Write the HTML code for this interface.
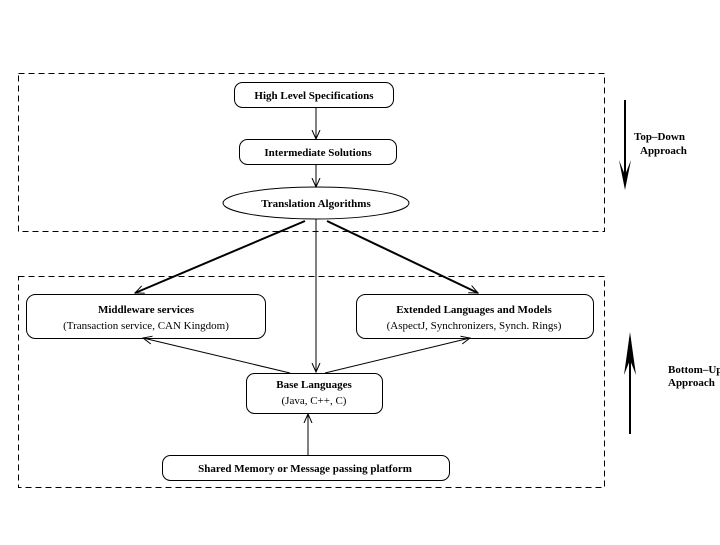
<!DOCTYPE html>
<html><head><style>
body{margin:0;background:#fff;}
svg text{font-family:"Liberation Serif",serif;font-weight:bold;font-size:11px;fill:#000;}
</style></head><body>
<svg width="720" height="540" xmlns="http://www.w3.org/2000/svg">
<defs>
<marker id="a" markerWidth="10" markerHeight="10" refX="9" refY="5" orient="auto" markerUnits="userSpaceOnUse"><path d="M0,1 L9,5 L0,9" fill="none" stroke="#000" stroke-width="1"/></marker>
</defs>
<g fill="none" stroke="#000" stroke-width="1">
<rect x="18.5" y="73.5" width="586" height="158" stroke-dasharray="6,4"/>
<rect x="18.5" y="276.5" width="586" height="211" stroke-dasharray="6,4"/>
<rect x="234.5" y="82.5" width="159" height="25" rx="8"/>
<rect x="239.5" y="139.5" width="157" height="25" rx="8"/>
<ellipse cx="316" cy="203" rx="93" ry="16"/>
<rect x="26.5" y="294.5" width="239" height="44" rx="9"/>
<rect x="356.5" y="294.5" width="237" height="44" rx="9"/>
<rect x="246.5" y="373.5" width="136" height="40" rx="8"/>
<rect x="162.5" y="455.5" width="287" height="25" rx="8"/>
<line x1="316" y1="107" x2="316" y2="139" marker-end="url(#a)"/>
<line x1="316" y1="164" x2="316" y2="187" marker-end="url(#a)"/>
<line x1="316" y1="219" x2="316" y2="372" marker-end="url(#a)"/>
<line x1="305" y1="221" x2="135" y2="293" stroke-width="2" marker-end="url(#a)"/>
<line x1="327" y1="221" x2="478" y2="293" stroke-width="2" marker-end="url(#a)"/>
<line x1="290" y1="373" x2="143" y2="338" marker-end="url(#a)"/>
<line x1="325" y1="373" x2="470" y2="338" marker-end="url(#a)"/>
<line x1="308" y1="455" x2="308" y2="414" marker-end="url(#a)"/>
<line x1="625" y1="100" x2="625" y2="185" stroke-width="2"/>
<line x1="630" y1="338" x2="630" y2="434" stroke-width="2"/>
</g>
<polygon points="619,160 625,190 631,160 625,175" fill="#000"/>
<polygon points="624,375 630,332 636,375 630,360" fill="#000"/>
<text x="314" y="99" text-anchor="middle">High Level Specifications</text>
<text x="318" y="156" text-anchor="middle">Intermediate Solutions</text>
<text x="316" y="207" text-anchor="middle">Translation Algorithms</text>
<text x="146" y="313" text-anchor="middle">Middleware services</text>
<text x="146" y="329" text-anchor="middle" font-weight="normal" style="font-weight:normal">(Transaction service, CAN Kingdom)</text>
<text x="474" y="313" text-anchor="middle">Extended Languages and Models</text>
<text x="474" y="329" text-anchor="middle" style="font-weight:normal">(AspectJ, Synchronizers, Synch. Rings)</text>
<text x="314" y="388" text-anchor="middle">Base Languages</text>
<text x="314" y="404" text-anchor="middle" style="font-weight:normal">(Java, C++, C)</text>
<text x="305" y="472" text-anchor="middle">Shared Memory or Message passing platform</text>
<text x="634" y="140">Top–Down</text>
<text x="640" y="154">Approach</text>
<text x="668" y="373">Bottom–Up</text>
<text x="668" y="386">Approach</text>
</svg>
</body></html>
